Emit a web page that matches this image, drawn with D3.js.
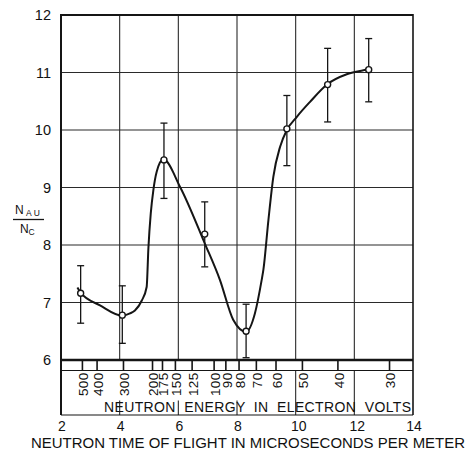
<!DOCTYPE html>
<html>
<head>
<meta charset="utf-8">
<script src="https://cdn.jsdelivr.net/npm/d3@7"></script>
<style>
  html, body { margin: 0; padding: 0; background: #fff; }
  svg { display: block; }
  text { font-family: "Liberation Sans", Arial, sans-serif; fill: #111; }
</style>
</head>
<body>
<svg id="chart" width="467" height="451"></svg>
<script>
// ---- data ----
const pointTime   = [2.67, 4.09, 5.51, 6.90, 8.31, 9.70, 11.09, 12.49];
const pointRatio  = [7.16, 6.78, 9.48, 8.19, 6.50, 10.02, 10.79, 11.05];
const errorUpper  = [7.64, 7.29, 10.12, 8.75, 6.97, 10.60, 11.42, 11.59];
const errorLower  = [6.64, 6.29, 8.81, 7.62, 6.04, 9.38, 10.14, 10.49];

const curveTime  = [2.56, 2.67, 3.33, 4.09, 4.35, 4.52, 4.75, 4.92, 4.98, 5.06, 5.15, 5.26, 5.49, 6.06, 6.90, 7.42, 7.87, 8.31, 8.61, 8.84, 8.90, 9.07, 9.24, 9.47, 9.70, 10.04, 10.49, 11.09, 11.74, 12.31, 12.49];
const curveRatio = [7.26, 7.17, 6.95, 6.77, 6.81, 6.86, 7.03, 7.27, 7.95, 8.55, 8.96, 9.27, 9.49, 9.01, 8.03, 7.39, 6.70, 6.49, 6.81, 7.39, 7.57, 8.43, 9.19, 9.71, 10.00, 10.23, 10.49, 10.80, 10.97, 11.04, 11.06];

const xTicks = [2, 4, 6, 8, 10, 12, 14];
const yTicks = [6, 7, 8, 9, 10, 11, 12];
const energyLabels = ["500", "400", "300", "200", "175", "150", "125", "100", "90", "80", "70", "60", "50", "40", "30"];
const energyTime   = [2.73, 3.23, 4.13, 5.12, 5.46, 5.90, 6.47, 7.22, 7.62, 8.07, 8.66, 9.33, 10.23, 11.44, 13.20];

const xTitle = "NEUTRON TIME OF FLIGHT IN MICROSECONDS PER METER";
const bandTitle = "NEUTRON  ENERGY  IN  ELECTRON  VOLTS";

// ---- layout ----
const svg = d3.select("#chart");
const x = d3.scaleLinear().domain([2, 14]).range([61, 413]);
const y = d3.scaleLinear().domain([6, 12]).range([360, 15]);
const bandTop = 370.5, bandBottom = 415;
const ink = "#151515";

// grid
const grid = svg.append("g").attr("stroke", "#2a2a2a").attr("stroke-width", 1.1);
grid.selectAll("line.h").data(yTicks.slice(1, -1)).join("line")
  .attr("x1", x(2)).attr("x2", x(14)).attr("y1", d => y(d)).attr("y2", d => y(d));
grid.selectAll("line.v").data(xTicks.slice(1, -1)).join("line")
  .attr("y1", y(12)).attr("y2", y(6)).attr("x1", d => x(d)).attr("x2", d => x(d));
// grid continuation through energy band
grid.selectAll("line.vb").data(xTicks.slice(1, -1)).join("line")
  .attr("y1", d => d >= 10 ? bandTop : bandTop + 30)
  .attr("y2", bandBottom)
  .attr("x1", d => x(d)).attr("x2", d => x(d));

// frame
const frame = svg.append("g").attr("stroke", ink).attr("fill", "none");
frame.append("line").attr("x1", x(2)).attr("x2", x(14)).attr("y1", y(12)).attr("y2", y(12)).attr("stroke-width", 2);
frame.append("line").attr("x1", x(2)).attr("x2", x(2)).attr("y1", y(12) - 1).attr("y2", bandBottom).attr("stroke-width", 2);
frame.append("line").attr("x1", x(14)).attr("x2", x(14)).attr("y1", y(12) - 1).attr("y2", bandBottom).attr("stroke-width", 1.6);
frame.append("line").attr("x1", x(2)).attr("x2", x(14)).attr("y1", y(6)).attr("y2", y(6)).attr("stroke-width", 2.6);
frame.append("line").attr("x1", x(2)).attr("x2", x(14)).attr("y1", bandTop).attr("y2", bandTop).attr("stroke-width", 1.2);
frame.append("line").attr("x1", x(2)).attr("x2", x(14)).attr("y1", bandBottom).attr("y2", bandBottom).attr("stroke-width", 1.2);

// energy ticks
svg.append("g").attr("stroke", ink).attr("stroke-width", 1.6)
  .selectAll("line").data(energyTime).join("line")
  .attr("x1", d => x(d)).attr("x2", d => x(d)).attr("y1", y(6)).attr("y2", bandTop);

svg.append("g").selectAll("text").data(energyLabels).join("text")
  .attr("transform", (d, i) => `translate(${x(energyTime[i]) + 1},${bandTop + 2}) rotate(-90)`)
  .attr("text-anchor", "end").attr("dy", "0.36em")
  .attr("font-size", 13.5).attr("letter-spacing", 0.3)
  .text(d => d);

svg.append("text").attr("x", 104).attr("y", 411.5)
  .attr("font-size", 14).attr("textLength", 307).attr("lengthAdjust", "spacing")
  .style("white-space", "pre")
  .text(bandTitle);

// y tick labels
svg.append("g").selectAll("text").data(yTicks).join("text")
  .attr("x", 51).attr("y", d => y(d)).attr("dy", "0.36em")
  .attr("text-anchor", "end").attr("font-size", 14.5).text(d => d);

// x tick labels
svg.append("g").selectAll("text").data(xTicks).join("text")
  .attr("x", d => x(d) + (d >= 10 && d < 14 ? 3 : 1)).attr("y", 431)
  .attr("text-anchor", "middle").attr("font-size", 14).text(d => d);

svg.append("text").attr("x", 31).attr("y", 447.5)
  .attr("font-size", 14.5).attr("textLength", 434).attr("lengthAdjust", "spacingAndGlyphs")
  .text(xTitle);

// y axis label  N_AU / N_C
const yl = svg.append("g");
yl.append("text").attr("x", 15).attr("y", 213.5).attr("font-size", 12).text("N");
yl.append("text").attr("x", 26).attr("y", 215.5).attr("font-size", 8.5).attr("letter-spacing", 2).text("AU");
yl.append("line").attr("x1", 13).attr("x2", 44).attr("y1", 219.5).attr("y2", 219.5).attr("stroke", ink).attr("stroke-width", 1.3);
yl.append("text").attr("x", 20).attr("y", 233).attr("font-size", 12).text("N");
yl.append("text").attr("x", 28.5).attr("y", 234.5).attr("font-size", 8.5).text("C");

// fitted curve
const line = d3.line().x(d => x(d[0])).y(d => y(d[1])).curve(d3.curveMonotoneX);
svg.append("path").datum(curveTime.map((t, i) => [t, curveRatio[i]]))
  .attr("d", line).attr("fill", "none").attr("stroke", ink).attr("stroke-width", 2);

// error bars
const eb = svg.append("g").attr("stroke", ink).attr("stroke-width", 1.3);
pointTime.forEach((t, i) => {
  eb.append("line").attr("x1", x(t)).attr("x2", x(t)).attr("y1", y(errorUpper[i])).attr("y2", y(errorLower[i]));
  eb.append("line").attr("x1", x(t) - 3.5).attr("x2", x(t) + 3.5).attr("y1", y(errorUpper[i])).attr("y2", y(errorUpper[i]));
  eb.append("line").attr("x1", x(t) - 3.5).attr("x2", x(t) + 3.5).attr("y1", y(errorLower[i])).attr("y2", y(errorLower[i]));
});

// points
svg.append("g").selectAll("circle").data(pointTime).join("circle")
  .attr("cx", d => x(d)).attr("cy", (d, i) => y(pointRatio[i])).attr("r", 3)
  .attr("fill", "#fff").attr("stroke", ink).attr("stroke-width", 1.4);
</script>
</body>
</html>
